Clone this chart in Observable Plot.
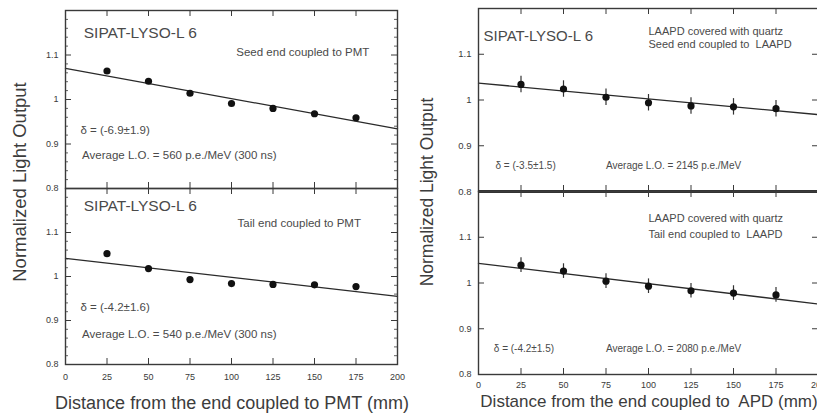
<!DOCTYPE html>
<html><head><meta charset="utf-8">
<script src="https://cdn.jsdelivr.net/npm/d3@7"></script>
<script src="https://cdn.jsdelivr.net/npm/@observablehq/plot@0.6"></script>
<style>
html,body{margin:0;padding:0;background:#fff;overflow:hidden;}
#chart{position:relative;width:817px;height:418px;font-family:"Liberation Sans",Arial,sans-serif;color:#3c3c3c;background:#fff;}
#chart svg{position:absolute;overflow:visible;background:transparent;}
.ttl{position:absolute;white-space:pre;line-height:1;}
</style></head><body><div id="chart"></div>
<script>
// ---- data ----
const distances = [25, 50, 75, 100, 125, 150, 175];
const seedPMT = [1.064, 1.041, 1.014, 0.991, 0.980, 0.968, 0.959];
const seedPMTErr = [0.005, 0.005, 0.005, 0.005, 0.005, 0.005, 0.005];
const tailPMT = [1.052, 1.018, 0.993, 0.984, 0.982, 0.981, 0.977];
const tailPMTErr = [0.005, 0.005, 0.005, 0.005, 0.005, 0.005, 0.005];
const seedAPD = [1.034, 1.024, 1.006, 0.994, 0.987, 0.985, 0.981];
const seedAPDErr = [0.018, 0.018, 0.018, 0.018, 0.018, 0.018, 0.018];
const tailAPD = [1.039, 1.026, 1.004, 0.993, 0.983, 0.978, 0.974];
const tailAPDErr = [0.016, 0.016, 0.016, 0.016, 0.016, 0.016, 0.016];
const fitX = [0, 200];
const seedPMTFit = [1.070, 0.934];
const tailPMTFit = [1.041, 0.955];
const seedAPDFit = [1.037, 0.968];
const tailAPDFit = [1.043, 0.954];
const xTicks = [0, 25, 50, 75, 100, 125, 150, 175, 200];
const yTicks = [0.8, 0.9, 1.0, 1.1];
const yMajor = [0.8, 0.9, 1.0, 1.1, 1.2];
const yMinor = [0.82,0.84,0.86,0.88,0.92,0.94,0.96,0.98,1.02,1.04,1.06,1.08,1.12,1.14,1.16,1.18];
const yFormat = d => d === 1 ? "1" : d.toFixed(1);

const notesSeedPMT = [
  {x: 11, y: 1.150, text: "SIPAT-LYSO-L 6", size: 15.5, anchor: "start"},
  {x: 183, y: 1.106, text: "Seed end coupled to PMT", size: 11.5, anchor: "end"},
  {x: 9, y: 0.930, text: "δ = (-6.9±1.9)", size: 11.5, anchor: "start"},
  {x: 10, y: 0.874, text: "Average L.O. = 560 p.e./MeV (300 ns)", size: 11.5, anchor: "start"}
];
const notesTailPMT = [
  {x: 11, y: 1.161, text: "SIPAT-LYSO-L 6", size: 15.5, anchor: "start"},
  {x: 178, y: 1.120, text: "Tail end coupled to PMT", size: 11.5, anchor: "end"},
  {x: 9, y: 0.930, text: "δ = (-4.2±1.6)", size: 11.5, anchor: "start"},
  {x: 10, y: 0.868, text: "Average L.O. = 540 p.e./MeV (300 ns)", size: 11.5, anchor: "start"}
];
const notesSeedAPD = [
  {x: 3, y: 1.140, text: "SIPAT-LYSO-L 6", size: 15, anchor: "start"},
  {x: 100, y: 1.150, text: "LAAPD covered with quartz", size: 11, anchor: "start"},
  {x: 100, y: 1.122, text: "Seed end coupled to  LAAPD", size: 11, anchor: "start"},
  {x: 10, y: 0.856, text: "δ = (-3.5±1.5)", size: 10, anchor: "start"},
  {x: 75, y: 0.856, text: "Average L.O. = 2145 p.e./MeV", size: 10, anchor: "start"}
];
const notesTailAPD = [
  {x: 100, y: 1.141, text: "LAAPD covered with quartz", size: 11, anchor: "start"},
  {x: 100, y: 1.107, text: "Tail end coupled to  LAAPD", size: 11, anchor: "start"},
  {x: 9, y: 0.856, text: "δ = (-4.2±1.5)", size: 10, anchor: "start"},
  {x: 75, y: 0.856, text: "Average L.O. = 2080 p.e./MeV", size: 10, anchor: "start"}
];

const panels = [
  {values: seedPMT, errors: seedPMTErr, fit: seedPMTFit, notes: notesSeedPMT,
   left: 0, top: 0, width: 410, height: 188, ml: 65, mr: 13, mt: 10, mb: 0, xAxis: false, minor: true, fs: 9},
  {values: tailPMT, errors: tailPMTErr, fit: tailPMTFit, notes: notesTailPMT,
   left: 0, top: 188, width: 410, height: 230, ml: 65, mr: 13, mt: 0, mb: 54, xAxis: true, minor: true, fs: 9, xpad: 9},
  {values: seedAPD, errors: seedAPDErr, fit: seedAPDFit, notes: notesSeedAPD,
   left: 410, top: 0, width: 409, height: 191, ml: 68, mr: 1, mt: 8, mb: 0, xAxis: false, minor: false, fs: 9.5, thick: true},
  {values: tailAPD, errors: tailAPDErr, fit: tailAPDFit, notes: notesTailAPD,
   left: 410, top: 191, width: 409, height: 227, ml: 68, mr: 1, mt: 0, mb: 44, xAxis: true, minor: false, fs: 9, xpad: 7}
];

const chart = document.getElementById("chart");
const ink = "#3a3a3a";
const noteInk = "#4a4a4a";

for (const p of panels) {
  const pts = distances.map((d, i) => ({x: d, y: p.values[i], e: p.errors[i]}));
  const fit = fitX.map((x, i) => ({x, y: p.fit[i]}));
  const W = p.width - p.ml - p.mr, H = p.height - p.mt - p.mb;
  const marks = [
    Plot.tickY(yMajor, {y: d => d, insetRight: W - 6, stroke: ink, strokeWidth: 1}),
    Plot.tickY(yMajor, {y: d => d, insetLeft: W - 6, stroke: ink, strokeWidth: 1}),
    Plot.tickX(xTicks, {x: d => d, insetBottom: H - 6, stroke: ink, strokeWidth: 1}),
    Plot.tickX(xTicks, {x: d => d, insetTop: H - 6, stroke: ink, strokeWidth: 1}),
    Plot.line(fit, {x: "x", y: "y", stroke: "#2a2a2a", strokeWidth: 1.3}),
    Plot.ruleX(pts, {x: "x", y1: d => d.y - d.e, y2: d => d.y + d.e, stroke: "#333", strokeWidth: 1.2}),
    Plot.dot(pts, {x: "x", y: "y", r: 3.6, fill: "#111", stroke: "none"}),
    Plot.text(p.notes.filter(d => d.anchor === "start"), {x: "x", y: "y", text: "text", fontSize: d => d.size, textAnchor: "start", fill: noteInk}),
    Plot.text(p.notes.filter(d => d.anchor === "end"), {x: "x", y: "y", text: "text", fontSize: d => d.size, textAnchor: "end", fill: noteInk}),
    Plot.frame({stroke: "#3a3a3a", strokeWidth: 1.4})
  ];
  if (p.minor) {
    marks.unshift(
      Plot.tickY(yMinor, {y: d => d, insetRight: W - 3, stroke: ink, strokeWidth: 0.8}),
      Plot.tickY(yMinor, {y: d => d, insetLeft: W - 3, stroke: ink, strokeWidth: 0.8})
    );
  }
  if (p.thick) marks.push(Plot.ruleY([0.8], {stroke: "#333", strokeWidth: 3.2}));
  const svg = Plot.plot({
    width: p.width, height: p.height,
    marginLeft: p.ml, marginRight: p.mr, marginTop: p.mt, marginBottom: p.mb,
    style: {fontFamily: "'Liberation Sans', Arial, sans-serif", fontSize: p.fs + "px", color: ink, background: "transparent", overflow: "visible"},
    x: p.xAxis ? {domain: [0, 200], ticks: xTicks, tickSize: 0, tickPadding: p.xpad, label: null}
               : {domain: [0, 200], axis: null},
    y: {domain: [0.8, 1.2], ticks: yTicks, tickSize: 0, tickPadding: 7, tickFormat: yFormat, label: null},
    marks
  });
  svg.style.left = p.left + "px";
  svg.style.top = p.top + "px";
  chart.appendChild(svg);
}

function title(text, x, y, size, rotate) {
  const d = document.createElement("div");
  d.className = "ttl";
  d.textContent = text;
  d.style.fontSize = size + "px";
  d.style.left = x + "px";
  d.style.top = y + "px";
  d.style.transform = "translate(-50%,-50%)" + (rotate ? " rotate(-90deg)" : "");
  chart.appendChild(d);
}
title("Normalized Light Output", 20, 182, 18.5, true);
title("Normalized Light Output", 428, 192, 17.5, true);
title("Distance from the end coupled to PMT (mm)", 232, 403, 18, false);
title("Distance from the end coupled to  APD (mm)", 649, 401, 17, false);
</script></body></html>
